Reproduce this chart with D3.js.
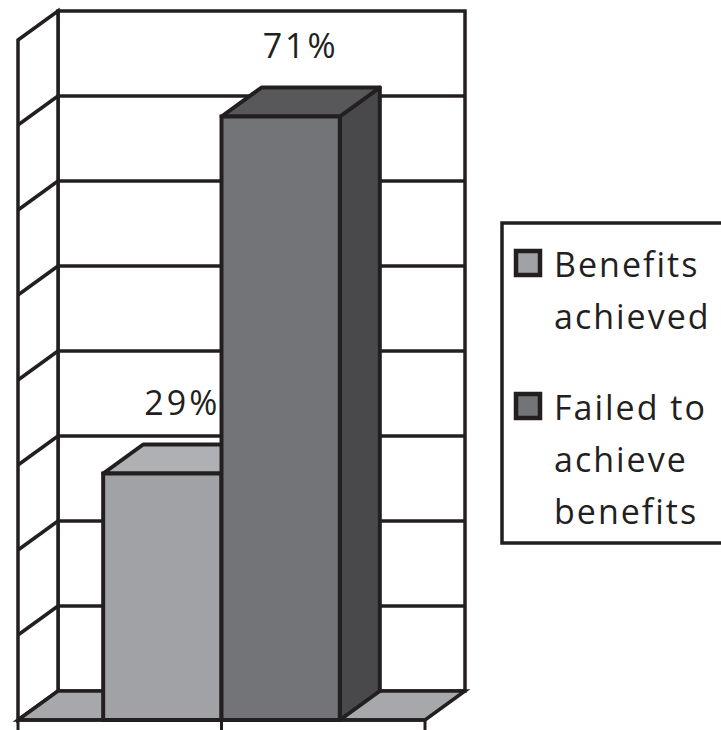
<!DOCTYPE html>
<html>
<head>
<meta charset="utf-8">
<script src="https://cdn.jsdelivr.net/npm/d3@7"></script>
<style>
  body { margin: 0; background: #fff; }
  svg { display: block; }
  text { font-family: "Open Sans", sans-serif; fill: #231f20; }
</style>
</head>
<body>
<main></main>
<script>
// データ
const series = ["Benefits achieved", "Failed to achieve benefits"];
const values = [29, 71];
const valueLabels = ["29%", "71%"];
const legendLines = [["Benefits", "achieved"], ["Failed to", "achieve", "benefits"]];
const yTicks = [0, 10, 20, 30, 40, 50, 60, 70, 80];

// 色
const frontColors = ["#a1a2a6", "#737478"];
const topColors = ["#afb0b3", "#58585b"];
const sideColors = ["#8c8d91", "#49494c"];
const floorColor = "#a7a8ab";
const ink = "#231f20";

const width = 721, height = 730;
const svg = d3.select("main").append("svg")
    .attr("width", width)
    .attr("height", height);

// 奥行き（手前へのずらし）
const dx = -40, dy = 29;

// スケール（奥の面の座標）
const x = d3.scaleBand().domain(series).range([58, 465]).paddingInner(0).paddingOuter(0.72);
const y = d3.scaleLinear().domain([0, 80]).range([691, 11]);

const x0 = x.range()[0], x1 = x.range()[1];
const yb = y(0), yt = y(80);
const pts = p => p.map(d => d.join(",")).join(" ");

// 奥の壁
svg.append("rect")
    .attr("x", x0).attr("y", yt)
    .attr("width", x1 - x0).attr("height", yb - yt)
    .attr("fill", "#fff").attr("stroke", ink).attr("stroke-width", 3.5);

svg.append("g").selectAll("line")
    .data(yTicks.slice(1, -1))
    .enter().append("line")
    .attr("x1", x0).attr("x2", x1)
    .attr("y1", d => y(d)).attr("y2", d => y(d))
    .attr("stroke", ink).attr("stroke-width", 3.5);

// 左の壁
svg.append("polygon")
    .attr("points", pts([[x0 + dx, yt + dy], [x0, yt], [x0, yb], [x0 + dx, yb + dy]]))
    .attr("fill", "#fff").attr("stroke", ink).attr("stroke-width", 3.5)
    .attr("stroke-linejoin", "miter");

svg.append("g").selectAll("line")
    .data(yTicks.slice(1, -1))
    .enter().append("line")
    .attr("x1", x0 + dx).attr("x2", x0)
    .attr("y1", d => y(d) + dy).attr("y2", d => y(d))
    .attr("stroke", ink).attr("stroke-width", 3.5);

// 床
svg.append("polygon")
    .attr("points", pts([[x0 + dx, yb + dy], [x0, yb], [x1, yb], [x1 + dx, yb + dy]]))
    .attr("fill", floorColor).attr("stroke", ink).attr("stroke-width", 3.5);

// 目盛り（床の下）
const tickX = [x0 + dx, (x0 + x1) / 2 + dx, x1 + dx];
svg.append("g").selectAll("line")
    .data(tickX)
    .enter().append("line")
    .attr("x1", d => d).attr("x2", d => d)
    .attr("y1", yb + dy).attr("y2", height)
    .attr("stroke", ink).attr("stroke-width", 3);

// 棒
const bw = x.bandwidth();
const bars = svg.append("g").selectAll("g")
    .data(values)
    .enter().append("g");

bars.append("polygon")
    .attr("points", (d, i) => {
        const bx = x(series[i]);
        return pts([[bx + bw, y(d)], [bx + bw, yb], [bx + bw + dx, yb + dy], [bx + bw + dx, y(d) + dy]]);
    })
    .attr("fill", (d, i) => sideColors[i])
    .attr("stroke", ink).attr("stroke-width", 4).attr("stroke-linejoin", "round");

bars.append("polygon")
    .attr("points", (d, i) => {
        const bx = x(series[i]);
        return pts([[bx, y(d)], [bx + bw, y(d)], [bx + bw + dx, y(d) + dy], [bx + dx, y(d) + dy]]);
    })
    .attr("fill", (d, i) => topColors[i])
    .attr("stroke", ink).attr("stroke-width", 4).attr("stroke-linejoin", "round");

bars.append("rect")
    .attr("x", (d, i) => x(series[i]) + dx)
    .attr("y", d => y(d) + dy)
    .attr("width", bw)
    .attr("height", d => yb - y(d))
    .attr("fill", (d, i) => frontColors[i])
    .attr("stroke", ink).attr("stroke-width", 4);

// 床の手前の線
svg.append("line")
    .attr("x1", x0 + dx).attr("x2", x1 + dx)
    .attr("y1", yb + dy).attr("y2", yb + dy)
    .attr("stroke", ink).attr("stroke-width", 3.5);

// 値ラベル
svg.append("g").selectAll("text")
    .data(values)
    .enter().append("text")
    .attr("x", (d, i) => x(series[i]) + bw / 2 + dx / 2)
    .attr("y", d => y(d) - 30)
    .attr("text-anchor", "middle")
    .attr("font-size", 34)
    .attr("letter-spacing", 3)
    .text((d, i) => valueLabels[i]);

// 凡例
const legend = svg.append("g");
legend.append("rect")
    .attr("x", 502).attr("y", 223)
    .attr("width", 240).attr("height", 320)
    .attr("fill", "#fff").attr("stroke", ink).attr("stroke-width", 3.5);

const item = legend.selectAll("g.item")
    .data(series)
    .enter().append("g")
    .attr("class", "item")
    .attr("transform", (d, i) => `translate(0,${277 + i * 143})`);

item.append("rect")
    .attr("x", 516).attr("y", -26)
    .attr("width", 24).attr("height", 24)
    .attr("fill", (d, i) => frontColors[i])
    .attr("stroke", ink).attr("stroke-width", 4.5);

item.each(function (d, i) {
    d3.select(this).selectAll("text")
        .data(legendLines[i])
        .enter().append("text")
        .attr("x", 554)
        .attr("y", (t, j) => j * 52)
        .attr("font-size", 34)
        .attr("letter-spacing", 2)
        .text(t => t);
});
</script>
</body>
</html>
